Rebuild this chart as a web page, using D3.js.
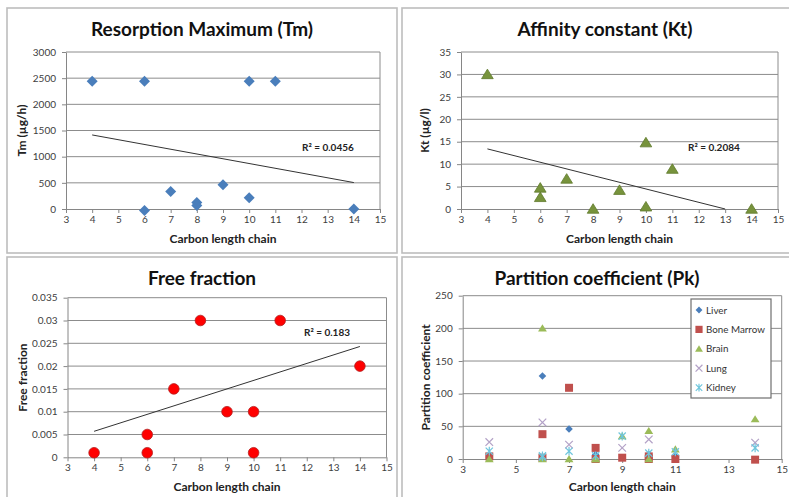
<!DOCTYPE html>
<html><head><meta charset="utf-8">
<script src="https://cdn.jsdelivr.net/npm/d3@7"></script>
<style>
html,body{margin:0;padding:0;background:#fff;}
svg{display:block;font-family:Lato,"Open Sans",sans-serif;}
</style></head>
<body>
<svg id="chart" width="789" height="497"></svg>
<script>
// ---------- DATA ----------
const chainTm = [4, 6, 10, 11, 6, 7, 8, 8, 9, 10, 14];
const tmValues = [2440, 2440, 2440, 2440, -30, 335, 125, 65, 465, 215, 0];
const tmTrend = [[4, 1415], [14, 505]];
const tmR2 = "R² = 0.0456";

const chainKt = [4, 6, 6, 7, 8, 9, 10, 10, 11, 14];
const ktValues = [30, 4.7, 2.6, 6.7, 0, 4.2, 14.8, 0.5, 8.9, 0];
const ktTrend = [[4, 13.4], [13, 0]];
const ktR2 = "R² = 0.2084";

const chainFF = [4, 6, 6, 7, 8, 9, 10, 10, 11, 14];
const ffValues = [0.001, 0.005, 0.001, 0.015, 0.03, 0.01, 0.01, 0.001, 0.03, 0.02];
const ffTrend = [[4, 0.0057], [14, 0.0243]];
const ffR2 = "R² = 0.183";

const chainPk = [4, 6, 6, 7, 8, 8, 9, 10, 10, 11, 14];
const pkSeriesNames = ["Liver", "Bone Marrow", "Brain", "Lung", "Kidney"];
const pkLiver      = [3, 127, 2, 46, 7, 1, null, 7, 1, 4, null];
const pkBoneMarrow = [4, 38, 2, 109, 17, 0, 2, 4, 0, 0, -1];
const pkBrain      = [0, 200, 0, 0, 0, 0, 35, 43, 0, 15, 61];
const pkLung       = [26, 56, null, 22, null, null, 17, 30, null, null, 25];
const pkKidney     = [12, 5, 3, 12, 5, null, 35, 9, null, 11, 17];

const xTicks = [3, 4, 5, 6, 7, 8, 9, 10, 11, 12, 13, 14, 15];
const xTicksPk = [3, 5, 7, 9, 11, 13, 15];
const tmTicks = [0, 500, 1000, 1500, 2000, 2500, 3000];
const ktTicks = [0, 5, 10, 15, 20, 25, 30, 35];
const ffTicks = [0, 0.005, 0.01, 0.015, 0.02, 0.025, 0.03, 0.035];
const pkTicks = [0, 50, 100, 150, 200, 250];

// ---------- DRAW ----------
const svg = d3.select("#chart");

const frames = [
  {x: 7, y: 8, w: 390, h: 245},
  {x: 402, y: 8, w: 400, h: 245},
  {x: 7, y: 257, w: 390, h: 260},
  {x: 402, y: 257, w: 400, h: 260}
];
svg.selectAll("rect.frame").data(frames).join("rect")
  .attr("class", "frame")
  .attr("x", d => d.x).attr("y", d => d.y).attr("width", d => d.w).attr("height", d => d.h)
  .attr("fill", "#fff").attr("stroke", "#bdbdbd").attr("stroke-width", 1.6);

const markers = {
  diamond: s => `M0,${-s}L${s},0L0,${s}L${-s},0Z`,
  triangle: s => `M0,${-s}L${s*1.1},${s*0.8}L${-s*1.1},${s*0.8}Z`,
  square: s => `M${-s},${-s}H${s}V${s}H${-s}Z`,
  cross: s => `M${-s},${-s}L${s},${s}M${-s},${s}L${s},${-s}`,
  asterisk: s => `M${-s},${-s}L${s},${s}M${-s},${s}L${s},${-s}M0,${-s*1.2}V${s*1.2}`
};

function panel(cfg) {
  const g = svg.append("g");
  const x = d3.scaleLinear().domain([3, 15]).range([cfg.x0, cfg.x1]);
  const y = d3.scaleLinear().domain(cfg.yDomain).range([cfg.y1, cfg.y0]);

  g.selectAll("line.grid").data(cfg.yTicks.slice(1)).join("line")
    .attr("x1", cfg.x0).attr("x2", cfg.x1)
    .attr("y1", d => y(d)).attr("y2", d => y(d))
    .attr("stroke", "#8c8c8c").attr("stroke-width", 1);
  g.append("line").attr("x1", cfg.x1).attr("x2", cfg.x1).attr("y1", cfg.y0).attr("y2", cfg.y1)
    .attr("stroke", "#8c8c8c").attr("stroke-width", 1);

  const xAxis = d3.axisBottom(x).tickValues(cfg.xTicks).tickSize(4).tickSizeOuter(0).tickPadding(3).tickFormat(d3.format("d"));
  const yAxis = d3.axisLeft(y).tickValues(cfg.yTicks).tickSize(4).tickSizeOuter(0).tickPadding(6).tickFormat(cfg.yFormat);
  const xa = g.append("g").attr("transform", `translate(0,${cfg.y1})`).call(xAxis);
  const ya = g.append("g").attr("transform", `translate(${cfg.x0},0)`).call(yAxis);
  [xa, ya].forEach(a => {
    a.select(".domain").attr("stroke", "#868686");
    a.selectAll(".tick line").attr("stroke", "#868686");
    a.selectAll(".tick text").attr("fill", "#404040").style("font-size", "10px").style("font-family", "Lato, sans-serif");
  });

  if (cfg.trend) {
    g.append("path")
      .attr("d", d3.line().x(d => x(d[0])).y(d => y(d[1]))(cfg.trend))
      .attr("fill", "none").attr("stroke", "#333").attr("stroke-width", 1);
  }

  cfg.series.forEach(s => {
    const pts = s.xs.map((xv, i) => ({x: xv, y: s.ys[i]})).filter(d => d.y !== null);
    const sel = g.append("g").selectAll("path").data(pts).join("path")
      .attr("transform", d => `translate(${x(d.x)},${y(d.y)})`);
    if (s.shape === "circle") {
      sel.attr("d", d3.symbol().type(d3.symbolCircle).size(Math.PI * s.size * s.size));
    } else {
      sel.attr("d", markers[s.shape](s.size));
    }
    sel.attr("fill", s.stroked ? "none" : s.color)
       .attr("stroke", s.stroked ? s.color : (s.outline || "none"))
       .attr("stroke-width", s.stroked ? 1.2 : 0.8);
  });

  if (cfg.r2) {
    g.append("text").attr("x", cfg.r2x).attr("y", cfg.r2y)
      .style("font-size", "10px").style("font-weight", "bold").attr("fill", "#222").text(cfg.r2);
  }

  g.append("text").attr("x", cfg.titleX).attr("y", cfg.titleY).attr("text-anchor", "middle")
    .style("font-size", "19px").style("font-weight", "bold").attr("fill", "#111").text(cfg.title);
  g.append("text").attr("x", (cfg.x0 + cfg.x1) / 2).attr("y", cfg.xLabelY).attr("text-anchor", "middle")
    .style("font-size", "12px").style("font-weight", "bold").attr("fill", "#222").text("Carbon length chain");
  g.append("text").attr("transform", `translate(${cfg.yLabelX},${(cfg.y0 + cfg.y1) / 2}) rotate(-90)`)
    .attr("text-anchor", "middle")
    .style("font-size", "12px").style("font-weight", "bold").attr("fill", "#222").text(cfg.yLabel);

  return {g, x, y};
}

panel({
  x0: 66, x1: 380, y0: 52, y1: 209, yDomain: [0, 3000],
  xTicks: xTicks, yTicks: tmTicks, yFormat: d3.format("d"),
  trend: tmTrend, r2: tmR2, r2x: 302, r2y: 151,
  title: "Resorption Maximum (Tm)", titleX: 202, titleY: 36,
  xLabelY: 243, yLabel: "Tm (µg/h)", yLabelX: 26,
  series: [{xs: chainTm, ys: tmValues, shape: "diamond", size: 5.5, color: "#4a7ebb"}]
});

panel({
  x0: 461, x1: 778, y0: 52, y1: 209, yDomain: [0, 35],
  xTicks: xTicks, yTicks: ktTicks, yFormat: d3.format("d"),
  trend: ktTrend, r2: ktR2, r2x: 688, r2y: 151,
  title: "Affinity constant (Kt)", titleX: 605, titleY: 36,
  xLabelY: 243, yLabel: "Kt (µg/l)", yLabelX: 429,
  series: [{xs: chainKt, ys: ktValues, shape: "triangle", size: 5.3, color: "#77933c", outline: "#5f7a2c"}]
});

panel({
  x0: 67.5, x1: 386.5, y0: 297.7, y1: 457.3, yDomain: [0, 0.035],
  xTicks: xTicks, yTicks: ffTicks, yFormat: d => d === 0 ? "0" : String(+d.toFixed(3)),
  trend: ffTrend, r2: ffR2, r2x: 304, r2y: 336,
  title: "Free fraction", titleX: 202, titleY: 285,
  xLabelY: 491, yLabel: "Free fraction", yLabelX: 27,
  series: [{xs: chainFF, ys: ffValues, shape: "circle", size: 5.3, color: "#ff0000", outline: "#b32020"}]
});

const pkSeriesData = [pkLiver, pkBoneMarrow, pkBrain, pkLung, pkKidney];
const pkStyles = [
  {shape: "diamond", size: 3.8, color: "#4a7ebb"},
  {shape: "square", size: 4, color: "#c0504d"},
  {shape: "triangle", size: 4, color: "#9bbb59"},
  {shape: "cross", size: 3.8, color: "#b3a2c7", stroked: true},
  {shape: "asterisk", size: 3.6, color: "#6fc6dd", stroked: true}
];
panel({
  x0: 462.7, x1: 781.7, y0: 295.7, y1: 459, yDomain: [0, 250],
  xTicks: xTicksPk, yTicks: pkTicks, yFormat: d3.format("d"),
  title: "Partition coefficient (Pk)", titleX: 597, titleY: 285,
  xLabelY: 491, yLabel: "Partition coefficient", yLabelX: 430,
  series: pkSeriesData.map((ys, i) => Object.assign({xs: chainPk, ys: ys}, pkStyles[i]))
});

const lg = svg.append("g");
lg.append("rect").attr("x", 691).attr("y", 299).attr("width", 80).attr("height", 99)
  .attr("fill", "#fff").attr("stroke", "#6f6f6f").attr("stroke-width", 1.2);
pkSeriesNames.forEach((name, i) => {
  const yy = 310 + i * 19.4;
  const s = pkStyles[i];
  lg.append("path").attr("transform", `translate(699,${yy})`)
    .attr("d", markers[s.shape](s.size * 0.9))
    .attr("fill", s.stroked ? "none" : s.color)
    .attr("stroke", s.stroked ? s.color : "none").attr("stroke-width", 1.2);
  lg.append("text").attr("x", 706).attr("y", yy + 3.5)
    .style("font-size", "9.8px").attr("fill", "#333").text(name);
});
</script>
</body></html>
